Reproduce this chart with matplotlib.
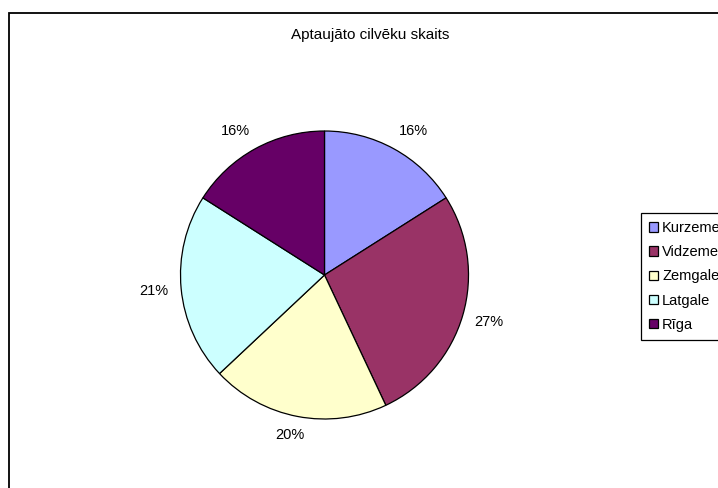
import numpy as np
import matplotlib.pyplot as plt
from matplotlib.patches import Rectangle

plt.rcParams['font.family'] = ['Liberation Sans', 'DejaVu Sans']

regions = ["Kurzeme", "Vidzeme", "Zemgale", "Latgale", "Rīga"]
shares = [16, 27, 20, 21, 16]
colors = ["#9999FF", "#993366", "#FFFFCC", "#CCFFFF", "#660066"]
title = "Aptaujāto cilvēku skaits"

W, H = 718, 488
cx, cy, R = 324.5, H - 275, 144

fig = plt.figure(figsize=(W / 100, H / 100), dpi=100)
# axes in pixel units (y up)
ax = fig.add_axes([0, 0, 1, 1])

# outer chart frame, runs off the right and bottom edges
ax.add_patch(Rectangle((8.5, -20), 800, H - 12.5 + 20, fill=False,
                       edgecolor="black", linewidth=1.3, clip_on=False))

wedges, _ = ax.pie(
    shares, colors=colors, startangle=90, counterclock=False,
    center=(cx, cy), radius=R, frame=True,
    wedgeprops=dict(edgecolor="black", linewidth=0.9))
ax.set_xlim(0, W)
ax.set_ylim(0, H)
ax.axis("off")

# percent labels just outside each slice, pushed out by half the text box
tw, th = 28, 12
for w, v in zip(wedges, shares):
    a = np.deg2rad((w.theta1 + w.theta2) / 2)
    px = cx + 1.09 * R * np.cos(a)
    py = cy + 1.09 * R * np.sin(a)
    px += tw / 2 * np.clip(2 * np.cos(a), -1, 1)
    py += th / 2 * np.clip(2 * np.sin(a), -1, 1)
    ax.text(px, py, f"{v}%", ha="center", va="center", fontsize=10.5)

ax.text(370, H - 35, title, ha="center", va="center", fontsize=11)

leg = ax.legend(wedges, regions, loc="upper left",
                bbox_to_anchor=(641 / W, 1 - 213 / H),
                bbox_transform=fig.transFigure,
                fontsize=10.5, frameon=True, fancybox=False, framealpha=1,
                edgecolor="black", handlelength=0.6, handleheight=0.6,
                handletextpad=0.3, labelspacing=0.7, borderpad=0.55,
                borderaxespad=0)
leg.get_frame().set_linewidth(0.9)

fig.savefig("out.png", dpi=100)
